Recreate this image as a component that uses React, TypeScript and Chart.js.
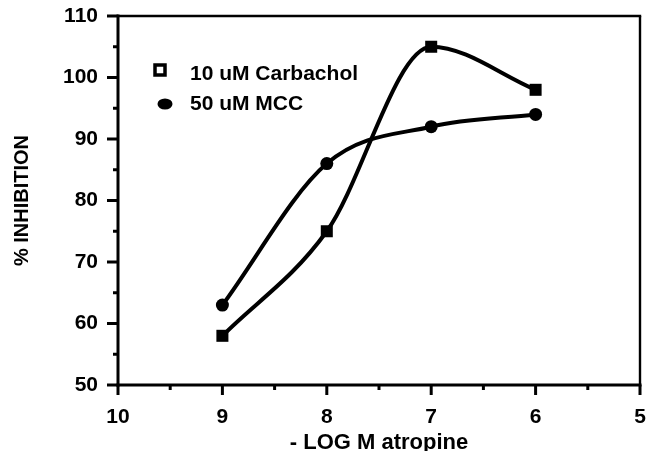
import React, { useEffect, useRef } from 'react';
import { Chart, registerables } from 'chart.js';

Chart.register(...registerables);

const FONT = '"Liberation Sans", Arial, Helvetica, sans-serif';

// -log M atropine
const xValues = [9, 8, 7, 6];
// % inhibition
const carbachol = [58, 75, 105, 98];
const mcc = [63, 86, 92, 94];

const seriesLabels = ['10 uM Carbachol', '50 uM MCC'];
const xTitle = '- LOG M atropine';
const yTitle = '% INHIBITION';

const xMajorTicks = [10, 9, 8, 7, 6, 5];
const xMinorTicks = [9.5, 8.5, 7.5, 6.5, 5.5];
const yMajorTicks = [50, 60, 70, 80, 90, 100, 110];
const yMinorTicks = [55, 65, 75, 85, 95, 105];

const framePlugin = {
  id: 'frameTicks',
  afterDraw(chart: any) {
    const { ctx, chartArea: a, scales } = chart;
    const xs = scales.x;
    const ys = scales.y;
    ctx.save();
    ctx.strokeStyle = '#000';
    ctx.lineCap = 'butt';
    const seg = (x1: number, y1: number, x2: number, y2: number, w: number) => {
      ctx.lineWidth = w;
      ctx.beginPath();
      ctx.moveTo(x1, y1);
      ctx.lineTo(x2, y2);
      ctx.stroke();
    };
    // frame
    seg(a.left, a.top - 1.5, a.left, a.bottom + 1.5, 3);
    seg(a.left - 1.5, a.bottom, a.right + 1.5, a.bottom, 3);
    seg(a.left, a.top, a.right + 1.2, a.top, 2.4);
    seg(a.right, a.top, a.right, a.bottom, 2.4);
    // y ticks
    yMajorTicks.forEach((v) => {
      const p = ys.getPixelForValue(v);
      seg(a.left - 11, p, a.left, p, 3);
    });
    yMinorTicks.forEach((v) => {
      const p = ys.getPixelForValue(v);
      seg(a.left - 5, p, a.left, p, 3);
    });
    // x ticks
    xMajorTicks.forEach((v) => {
      const p = xs.getPixelForValue(v);
      seg(p, a.bottom, p, a.bottom + 10, 3);
    });
    xMinorTicks.forEach((v) => {
      const p = xs.getPixelForValue(v);
      seg(p, a.bottom, p, a.bottom + 5, 3);
    });

    // legend
    const ds = chart.data.datasets;
    ctx.fillStyle = '#000';
    ctx.font = `bold 21px ${FONT}`;
    ctx.textBaseline = 'middle';
    ctx.textAlign = 'left';
    // hollow square
    ctx.lineWidth = 3.5;
    ctx.strokeRect(155, 65, 10, 10);
    ctx.fillText(ds[0].label, 190, 74);
    // filled round marker
    ctx.beginPath();
    ctx.ellipse(165, 104, 7.5, 5.5, 0, 0, Math.PI * 2);
    ctx.fill();
    ctx.fillText(ds[1].label, 190, 104);
    ctx.restore();
  },
};

export default function App() {
  const canvasRef = useRef<HTMLCanvasElement | null>(null);

  useEffect(() => {
    document.body.style.margin = '0';
    const canvas = canvasRef.current;
    if (!canvas) return;
    const chart = new Chart(canvas, {
      type: 'line',
      data: {
        datasets: [
          {
            label: seriesLabels[0],
            data: xValues.map((x, i) => ({ x, y: carbachol[i] })),
            borderColor: '#000',
            backgroundColor: '#000',
            borderWidth: 4,
            pointStyle: 'rect',
            pointRadius: 8.5,
            pointBackgroundColor: '#000',
            pointBorderWidth: 0,
            cubicInterpolationMode: 'monotone',
          },
          {
            label: seriesLabels[1],
            data: xValues.map((x, i) => ({ x, y: mcc[i] })),
            borderColor: '#000',
            backgroundColor: '#000',
            borderWidth: 4,
            pointStyle: 'circle',
            pointRadius: 6.5,
            pointBackgroundColor: '#000',
            pointBorderWidth: 0,
            cubicInterpolationMode: 'monotone',
          },
        ],
      },
      options: {
        animation: false,
        responsive: false,
        maintainAspectRatio: false,
        layout: { padding: { top: 16, right: 0, left: 0, bottom: 0 } },
        plugins: { legend: { display: false }, tooltip: { enabled: false } },
        scales: {
          x: {
            type: 'linear',
            reverse: true,
            min: 5,
            max: 10,
            afterFit: (s: any) => {
              s.height = 66;
              s.paddingLeft = 0;
              s.paddingRight = 0;
            },
            afterBuildTicks: (s: any) => {
              s.ticks = xMajorTicks.map((v) => ({ value: v }));
            },
            border: { display: false },
            grid: { drawOnChartArea: false, drawTicks: true, tickLength: 10, tickColor: 'rgba(0,0,0,0)' },
            ticks: {
              color: '#000',
              padding: 10,
              maxRotation: 0,
              font: { family: FONT, size: 21, weight: 'bold' },
            },
            title: {
              display: true,
              text: xTitle,
              color: '#000',
              font: { family: FONT, size: 22, weight: 'bold', lineHeight: 0.7 },
              padding: { top: 0, bottom: 0 },
            },
          },
          y: {
            type: 'linear',
            min: 50,
            max: 110,
            afterFit: (s: any) => {
              s.width = 118;
              s.paddingTop = 0;
              s.paddingBottom = 0;
              s.paddingLeft = 0;
              s.paddingRight = 0;
            },
            afterBuildTicks: (s: any) => {
              s.ticks = yMajorTicks.map((v) => ({ value: v }));
            },
            border: { display: false },
            grid: { drawOnChartArea: false, drawTicks: true, tickLength: 11, tickColor: 'rgba(0,0,0,0)' },
            ticks: {
              color: '#000',
              padding: 9,
              font: { family: FONT, size: 21, weight: 'bold' },
            },
            title: {
              display: true,
              text: yTitle,
              color: '#000',
              font: { family: FONT, size: 20, weight: 'bold' },
              padding: { top: 10, bottom: 0 },
            },
          },
        },
      },
      plugins: [
        framePlugin,
        {
          id: 'fixArea',
          afterLayout(chart: any) {
            // keep plot frame right edge where the reference has it
            const target = 640;
            const a = chart.chartArea;
            if (Math.abs(a.right - target) > 0.5) {
              a.right = target;
              a.width = a.right - a.left;
              const xs = chart.scales.x;
              xs.right = target;
              xs.width = target - xs.left;
              xs._length = xs.width;
              xs.configure();
            }
          },
        },
      ],
    } as any);
    return () => chart.destroy();
  }, []);

  return (
    <div style={{ position: 'fixed', left: 0, top: 0, width: 646, height: 451, background: '#fff' }}>
      <canvas ref={canvasRef} width={646} height={451} style={{ display: 'block' }} />
    </div>
  );
}
